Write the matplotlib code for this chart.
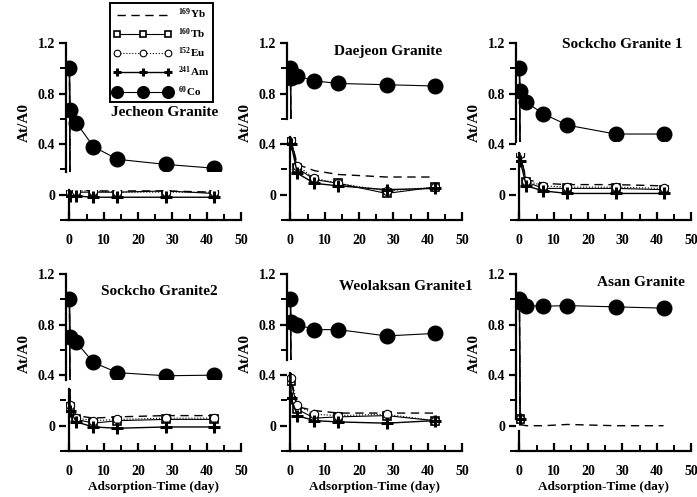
import numpy as np
import matplotlib
matplotlib.use("Agg")
import matplotlib.pyplot as plt
from matplotlib.spines import Spine
from matplotlib.ticker import MultipleLocator, FuncFormatter

plt.rcParams["font.family"] = ["Liberation Serif", "DejaVu Serif"]
plt.rcParams["font.weight"] = "bold"
plt.rcParams["mathtext.fontset"] = "custom"
plt.rcParams["mathtext.rm"] = "Liberation Serif:bold"
plt.rcParams["mathtext.it"] = "Liberation Serif:bold"
plt.rcParams["mathtext.bf"] = "Liberation Serif:bold"

# adsorption time (day)
days = [0, 0.2, 2, 7, 14, 28, 42]

panel_names = ["Jecheon Granite", "Daejeon Granite", "Sockcho Granite 1",
               "Sockcho Granite2", "Weolaksan Granite1", "Asan Granite"]

nan = np.nan
# At/A0 for each nuclide, one row per panel (same order as panel_names)
co60 = [
    [1.00, 0.67, 0.57, 0.38, 0.28, 0.24, 0.21],
    [1.00, 0.92, 0.94, 0.90, 0.88, 0.87, 0.86],
    [1.00, 0.82, 0.73, 0.64, 0.55, 0.48, 0.48],
    [1.00, 0.70, 0.66, 0.50, 0.42, 0.395, 0.40],
    [1.00, 0.82, 0.80, 0.76, 0.76, 0.71, 0.73],
    [1.00, 0.98, 0.95, 0.945, 0.95, 0.94, 0.93],
]
yb169 = [
    [1.00, 0.03, 0.04, 0.03, 0.03, 0.03, 0.02],
    [1.00, 0.43, 0.24, 0.19, 0.16, 0.14, 0.14],
    [1.00, 0.32, 0.12, 0.09, 0.08, 0.08, 0.07],
    [1.00, 0.17, 0.08, 0.06, 0.07, 0.08, 0.08],
    [1.00, 0.37, 0.15, 0.12, 0.10, 0.10, 0.10],
    [1.00, 0.01, 0.00, 0.00, 0.01, 0.00, 0.00],
]
tb160 = [
    [1.00, 0.01, 0.02, 0.02, 0.02, 0.03, 0.01],
    [1.00, 0.44, 0.21, 0.12, 0.09, 0.01, 0.06],
    [1.00, 0.33, 0.10, 0.05, 0.05, 0.05, 0.04],
    [1.00, 0.15, 0.05, 0.02, 0.04, 0.05, 0.05],
    [1.00, 0.35, 0.13, 0.06, 0.07, 0.08, 0.04],
    [1.00, 0.05, nan, nan, nan, nan, nan],
]
eu152 = [
    [1.00, 0.02, 0.03, 0.03, 0.02, 0.02, 0.02],
    [1.00, 0.43, 0.23, 0.13, 0.09, 0.03, 0.06],
    [1.00, 0.32, 0.11, 0.07, 0.06, 0.06, 0.05],
    [1.00, 0.16, 0.06, 0.04, 0.05, 0.06, 0.06],
    [1.00, 0.38, 0.16, 0.09, 0.08, 0.09, 0.04],
    [1.00, 0.05, nan, nan, nan, nan, nan],
]
am241 = [
    [1.00, -0.01, -0.01, -0.02, -0.02, -0.02, -0.02],
    [1.00, 0.40, 0.17, 0.09, 0.07, 0.04, 0.05],
    [1.00, 0.27, 0.07, 0.03, 0.01, 0.01, 0.01],
    [1.00, 0.12, 0.03, -0.01, -0.02, -0.01, -0.01],
    [1.00, 0.22, 0.08, 0.04, 0.03, 0.02, 0.04],
    [1.00, 0.05, nan, nan, nan, nan, nan],
]

# y-axis break of each panel (upper part starts at hi, lower part ends at lo)
breaks = [(0.18, 0.04), (0.60, 0.46), (0.42, 0.33),
          (0.36, 0.29), (0.52, 0.42), (0.05, -0.04)]
hide_gap = [True, True, True, True, True, False]
title_pos = [(0.563, 0.605), (0.577, 0.95), (0.606, 0.99),
             (0.531, 0.90), (0.68, 0.93), (0.714, 0.95)]

fig = plt.figure(figsize=(6.97, 4.97), dpi=100)
W, H = 697, 497
lefts = [66, 287, 516]
bottoms = [220, 451]
aw, ah = 175, 177

for i, name in enumerate(panel_names):
    r, c = divmod(i, 3)
    ax = fig.add_axes([lefts[c] / W, 1 - bottoms[r] / H, aw / W, ah / H])

    ax.plot(days, yb169[i], color="black", ls=(0, (6, 4)), lw=1.0)
    ax.plot(days, tb160[i], color="black", ls="-", lw=0.8, marker="s",
            ms=6, mfc="white", mec="black", mew=1.2)
    ax.plot(days, eu152[i], color="black", ls=":", lw=0.8, marker="o",
            ms=6, mfc="white", mec="black", mew=0.8)
    ax.plot(days, am241[i], color="black", ls="-", lw=1.0, marker="+",
            ms=8, mew=2.2)
    ax.plot(days, co60[i], color="black", ls="-", lw=0.8, marker="o",
            ms=10.5, mfc="black", mec="black")

    hi, lo = breaks[i]
    if hide_gap[i]:
        ax.axhspan(lo, hi, color="white", zorder=2.2, lw=0)

    ax.set_xlim(-1, 50)
    ax.set_ylim(-0.2, 1.2)
    ax.spines["top"].set_visible(False)
    ax.spines["right"].set_visible(False)
    ax.spines["left"].set_bounds(hi, 1.2)
    low = Spine.linear_spine(ax, "left")
    low.set_bounds(-0.2, lo)
    ax.spines["left_low"] = low
    for sp in ax.spines.values():
        sp.set_linewidth(1.6)

    ax.xaxis.set_major_locator(MultipleLocator(10))
    ax.xaxis.set_minor_locator(MultipleLocator(5))
    ax.yaxis.set_major_locator(MultipleLocator(0.4))
    ax.yaxis.set_minor_locator(MultipleLocator(0.2))
    ax.yaxis.set_major_formatter(FuncFormatter(lambda v, p: f"{v:g}"))
    ax.tick_params(axis="x", which="major", direction="in", length=6,
                   width=1.6, pad=10, labelsize=10)
    ax.tick_params(axis="x", which="minor", direction="in", length=4, width=1.4)
    ax.tick_params(axis="y", which="major", direction="out", length=5,
                   width=1.6, pad=3, labelsize=10)
    ax.tick_params(axis="y", which="minor", direction="out", length=4, width=1.4)

    ax.set_ylabel("At/A0", fontsize=11, fontweight="bold")
    ax.yaxis.set_label_coords(-0.2, 0.55)
    if r == 1:
        ax.set_xlabel("Adsorption-Time (day)", fontsize=9.5, fontweight="bold",
                      labelpad=2)

    ax.text(title_pos[i][0], title_pos[i][1], name, transform=ax.transAxes,
            ha="center", va="center", fontsize=11, fontweight="bold")

    if i == 0:
        handles = ax.get_lines()[:5]

labels = [r"$^{169}$Yb", r"$^{160}$Tb", r"$^{152}$Eu", r"$^{241}$Am", r"$^{60}$Co"]
leg = fig.legend(handles, labels, loc="upper left",
                 bbox_to_anchor=(110 / W, 1 - 3 / H), numpoints=3,
                 handlelength=5.2, fontsize=8, frameon=True, fancybox=False,
                 edgecolor="black", framealpha=1, labelspacing=0.42,
                 handletextpad=0.6, borderpad=0.35, borderaxespad=0,
                 markerscale=0.8)
leg.get_frame().set_linewidth(1.4)

fig.savefig("out.png", dpi=100)
